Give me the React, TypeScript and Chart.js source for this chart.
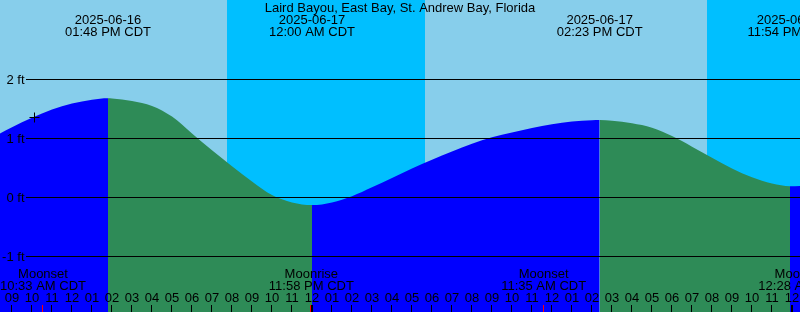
import React, { useEffect, useRef } from "react";
import { Chart, registerables } from "chart.js";

Chart.register(...registerables);

// Time axis: hours since 2025-06-16 09:00 CDT
const titleText = "Laird Bayou, East Bay, St. Andrew Bay, Florida";

const tideHours = [-0.6, 0, 1, 2, 3, 4, 4.8, 5, 6, 7, 8, 9, 10, 11, 12, 13, 14, 15, 16, 17, 18, 19, 20, 21, 22, 23, 24, 25, 26, 27, 28, 29, 29.383, 30, 31, 32, 33, 34, 35, 36, 37, 38, 38.9, 39.4];
const tideFeet = [1.085, 1.19, 1.35, 1.49, 1.59, 1.655, 1.68, 1.677, 1.635, 1.55, 1.37, 1.085, 0.8, 0.53, 0.27, 0.04, -0.085, -0.13, -0.085, 0.02, 0.17, 0.33, 0.49, 0.64, 0.78, 0.91, 1.02, 1.1, 1.175, 1.24, 1.285, 1.307, 1.31, 1.3, 1.255, 1.18, 1.04, 0.86, 0.67, 0.49, 0.34, 0.235, 0.19, 0.195];

const extremeHours = [4.8, 15.0, 29.383, 38.9];
const extremeDates = ["2025-06-16", "2025-06-17", "2025-06-17", "2025-06-17"];
const extremeTimes = ["01:48 PM CDT", "12:00 AM CDT", "02:23 PM CDT", "11:54 PM CDT"];

const moonHours = [1.55, 14.967, 26.583, 39.467];
const moonEvents = ["Moonset", "Moonrise", "Moonset", "Moonrise"];
const moonTimes = ["10:33 AM CDT", "11:58 PM CDT", "11:35 AM CDT", "12:28 AM CDT"];

const nightStarts = [10.77, 34.76];
const nightEnds = [20.67, 44.67];

const hourLabels = ["09", "10", "11", "12", "01", "02", "03", "04", "05", "06", "07", "08", "09", "10", "11", "12", "01", "02", "03", "04", "05", "06", "07", "08", "09", "10", "11", "12", "01", "02", "03", "04", "05", "06", "07", "08", "09", "10", "11", "12"];
const midnightHours = [15, 39];

const levelValues = [2, 1, 0, -1];
const levelLabels = ["2 ft", "1 ft", "0 ft", "-1 ft"];

const nowHour = 1.1;
const nowFeet = 1.36;

const X_MIN = -0.6;
const X_MAX = 39.4;
const Y_MIN = -1.9424;
const Y_MAX = 3.3458;

const DAY = "#87CEEB";
const NIGHT = "#00BFFF";
const RISING = "#0000FF";
const FALLING = "#2E8B57";
const FONT = '13px "Liberation Sans", Arial, sans-serif';

const decorPlugin = {
  id: "tideDecor",
  beforeDatasetsDraw(chart: any) {
    const { ctx, scales } = chart;
    const x = scales.x;
    ctx.save();
    ctx.fillStyle = DAY;
    ctx.fillRect(0, 0, chart.width, chart.height);
    ctx.fillStyle = NIGHT;
    nightStarts.forEach((s, i) => {
      const a = Math.round(x.getPixelForValue(s));
      const b = Math.round(x.getPixelForValue(nightEnds[i]));
      ctx.fillRect(a, 0, b - a, chart.height);
    });
    ctx.restore();
  },
  afterDatasetsDraw(chart: any) {
    const { ctx, scales } = chart;
    const x = scales.x;
    const y = scales.y;
    const W = chart.width;
    ctx.save();
    ctx.strokeStyle = "#000";
    ctx.lineWidth = 1;
    ctx.font = FONT;
    ctx.fillStyle = "#000";
    levelValues.forEach((v, i) => {
      const py = Math.floor(y.getPixelForValue(v)) + 0.5;
      ctx.beginPath();
      ctx.moveTo(26, py);
      ctx.lineTo(W, py);
      ctx.stroke();
      ctx.textAlign = "right";
      ctx.textBaseline = "alphabetic";
      ctx.fillText(levelLabels[i], 24.5, py + 4);
    });
    ctx.textAlign = "center";
    ctx.textBaseline = "alphabetic";
    ctx.fillText(titleText, 400, 12);
    extremeHours.forEach((h, i) => {
      const px = x.getPixelForValue(h);
      ctx.fillText(extremeDates[i], px, 24);
      ctx.fillText(extremeTimes[i], px, 36);
    });
    moonHours.forEach((h, i) => {
      const px = x.getPixelForValue(h);
      ctx.fillText(moonEvents[i], px, 278);
      ctx.fillText(moonTimes[i], px, 290);
    });
    hourLabels.forEach((lab, i) => {
      const px = x.getPixelForValue(i);
      ctx.fillText(lab, px, 302);
      ctx.fillRect(Math.floor(px - 0.5), 305, 1, 7);
    });
    midnightHours.forEach((h) => {
      const px = x.getPixelForValue(h);
      ctx.fillRect(Math.floor(px - 0.5), 305, 2, 7);
    });
    ctx.fillStyle = "#FF0000";
    moonHours.forEach((h) => {
      const px = x.getPixelForValue(h);
      ctx.fillRect(Math.floor(px - 0.5), 305, 1, 7);
    });
    const cx = Math.floor(x.getPixelForValue(nowHour)) + 0.5;
    const cy = Math.floor(y.getPixelForValue(nowFeet)) + 0.5;
    ctx.beginPath();
    ctx.moveTo(cx - 5, cy);
    ctx.lineTo(cx + 5, cy);
    ctx.moveTo(cx, cy - 5);
    ctx.lineTo(cx, cy + 5);
    ctx.strokeStyle = "#000";
    ctx.stroke();
    ctx.restore();
  },
};

export default function App() {
  const canvasRef = useRef<HTMLCanvasElement | null>(null);

  useEffect(() => {
    const canvas = canvasRef.current;
    if (!canvas) return;
    const points = tideHours.map((h, i) => ({ x: h, y: tideFeet[i] }));
    const chart = new Chart(canvas, {
      type: "line",
      data: {
        datasets: [
          {
            data: points,
            fill: "start",
            borderWidth: 0,
            borderColor: "rgba(0,0,0,0)",
            backgroundColor: RISING,
            pointRadius: 0,
            cubicInterpolationMode: "monotone",
            segment: {
              backgroundColor: (c: any) => (c.p1.parsed.y >= c.p0.parsed.y ? RISING : FALLING),
            },
          } as any,
        ],
      },
      options: {
        responsive: false,
        animation: false,
        devicePixelRatio: 1,
        layout: { padding: 0 },
        events: [],
        plugins: { legend: { display: false }, tooltip: { enabled: false }, title: { display: false } },
        scales: {
          x: { type: "linear", min: X_MIN, max: X_MAX, display: false },
          y: { type: "linear", min: Y_MIN, max: Y_MAX, display: false },
        },
      },
      plugins: [decorPlugin],
    });
    return () => chart.destroy();
  }, []);

  return (
    <div style={{ position: "absolute", left: 0, top: 0, width: 800, height: 312 }}>
      <canvas ref={canvasRef} width={800} height={312} style={{ display: "block" }} />
    </div>
  );
}
